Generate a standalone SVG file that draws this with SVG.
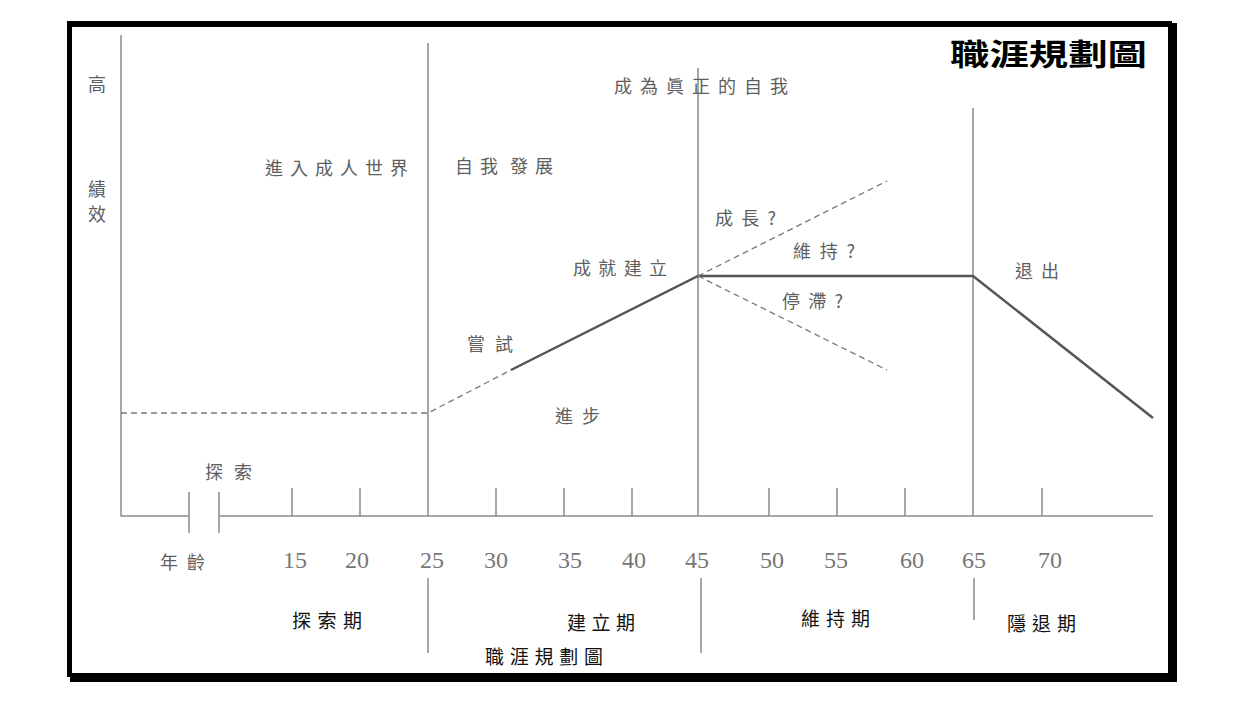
<svg xmlns="http://www.w3.org/2000/svg" width="1238" height="722" viewBox="0 0 1238 722">
<style>
.lbl{font-family:"Noto Sans CJK TC","Noto Sans CJK SC",sans-serif;font-size:18px;fill:#5e5e5e;dominant-baseline:central}
.ph{font-family:"Noto Sans CJK TC","Noto Sans CJK SC",sans-serif;font-size:19px;fill:#111;dominant-baseline:central}
.num{font-family:"Liberation Serif",serif;font-size:24px;fill:#777;text-anchor:middle}
.title{font-family:"Noto Sans CJK TC","Noto Sans CJK SC",sans-serif;font-size:30px;font-weight:bold;fill:#000;dominant-baseline:central}
.ax{stroke:#8a8a8a;stroke-width:1.5;fill:none}
.dash{stroke:#7a7a7a;stroke-width:1.3;stroke-dasharray:6 4;fill:none}
.path{stroke:#555;stroke-width:2.5;fill:none}
</style>
<rect width="1238" height="722" fill="#fff"/>
<g id="frame" fill="#000">
<rect x="67" y="21" width="1105" height="6"/>
<rect x="67" y="21" width="5" height="656"/>
<rect x="70" y="673" width="1107" height="9"/>
<rect x="1168" y="23" width="9" height="659"/>
</g>
<g id="axes">
<path class="ax" d="M121 35V516H189M219 516H1153"/>
<path class="ax" d="M189 492V533M219 492V533"/>
<path class="ax" d="M292 488V516M360 488V516M496 488V516M564 488V516M632 488V516M769 488V516M837 488V516M905 488V516M1042 488V516"/>
<path class="ax" d="M428 43V516M698 68V516M973 108V516"/>
<path class="ax" d="M428 578V653M701 578V653M974 578V620"/>
</g>
<g id="connectors">
<path class="dash" d="M121 413H428L511 370"/>
<path class="path" d="M511 370L698 276H973L1153 418"/>
<path class="dash" d="M698 276L887 181"/>
<path class="dash" d="M698 276L887 370"/>
</g>
<g id="title"><text class="title" x="950" y="52" textLength="197" lengthAdjust="spacingAndGlyphs">職涯規劃圖</text></g>
<g id="y-axis-label">
<text class="lbl" x="97" y="83" text-anchor="middle">高</text>
<text class="lbl" x="97" y="188" text-anchor="middle">績</text>
<text class="lbl" x="97" y="213" text-anchor="middle">效</text>
</g>
<g id="stage-adult"><text class="lbl" x="265" y="167" textLength="143" lengthAdjust="spacing">進入成人世界</text></g>
<g id="stage-self"><text class="lbl" x="455" y="165" textLength="43" lengthAdjust="spacing">自我</text><text class="lbl" x="510" y="165" textLength="43" lengthAdjust="spacing">發展</text></g>
<g id="stage-true"><text class="lbl" x="614" y="85" textLength="174" lengthAdjust="spacing">成為眞正的自我</text></g>
<g id="growth"><text class="lbl" x="715" y="217" textLength="61" lengthAdjust="spacing">成長?</text></g>
<g id="maintain"><text class="lbl" x="793" y="250" textLength="62" lengthAdjust="spacing">維持?</text></g>
<g id="achieve"><text class="lbl" x="573" y="267" textLength="94" lengthAdjust="spacing">成就建立</text></g>
<g id="exit"><text class="lbl" x="1015" y="270" textLength="44" lengthAdjust="spacing">退出</text></g>
<g id="stagnate"><text class="lbl" x="782" y="300" textLength="61" lengthAdjust="spacing">停滯?</text></g>
<g id="try"><text class="lbl" x="467" y="343" textLength="46" lengthAdjust="spacing">嘗試</text></g>
<g id="progress"><text class="lbl" x="555" y="415" textLength="45" lengthAdjust="spacing">進步</text></g>
<g id="explore"><text class="lbl" x="205" y="471" textLength="47" lengthAdjust="spacing">探索</text></g>
<g id="age-axis">
<text class="lbl" x="160" y="561" textLength="45" lengthAdjust="spacing">年齡</text>
<text class="num" x="295" y="568">15</text>
<text class="num" x="357" y="568">20</text>
<text class="num" x="432" y="568">25</text>
<text class="num" x="496" y="568">30</text>
<text class="num" x="570" y="568">35</text>
<text class="num" x="634" y="568">40</text>
<text class="num" x="697" y="568">45</text>
<text class="num" x="772" y="568">50</text>
<text class="num" x="836" y="568">55</text>
<text class="num" x="912" y="568">60</text>
<text class="num" x="974" y="568">65</text>
<text class="num" x="1050" y="568">70</text>
</g>
<g id="phase-explore"><text class="ph" x="292" y="619" textLength="70" lengthAdjust="spacing">探索期</text></g>
<g id="phase-establish"><text class="ph" x="567" y="621" textLength="68" lengthAdjust="spacing">建立期</text></g>
<g id="phase-maintain"><text class="ph" x="801" y="617" textLength="69" lengthAdjust="spacing">維持期</text></g>
<g id="phase-retire"><text class="ph" x="1007" y="622" textLength="69" lengthAdjust="spacing">隱退期</text></g>
<g id="caption"><text class="ph" x="485" y="655" textLength="118" lengthAdjust="spacing">職涯規劃圖</text></g>
</svg>
